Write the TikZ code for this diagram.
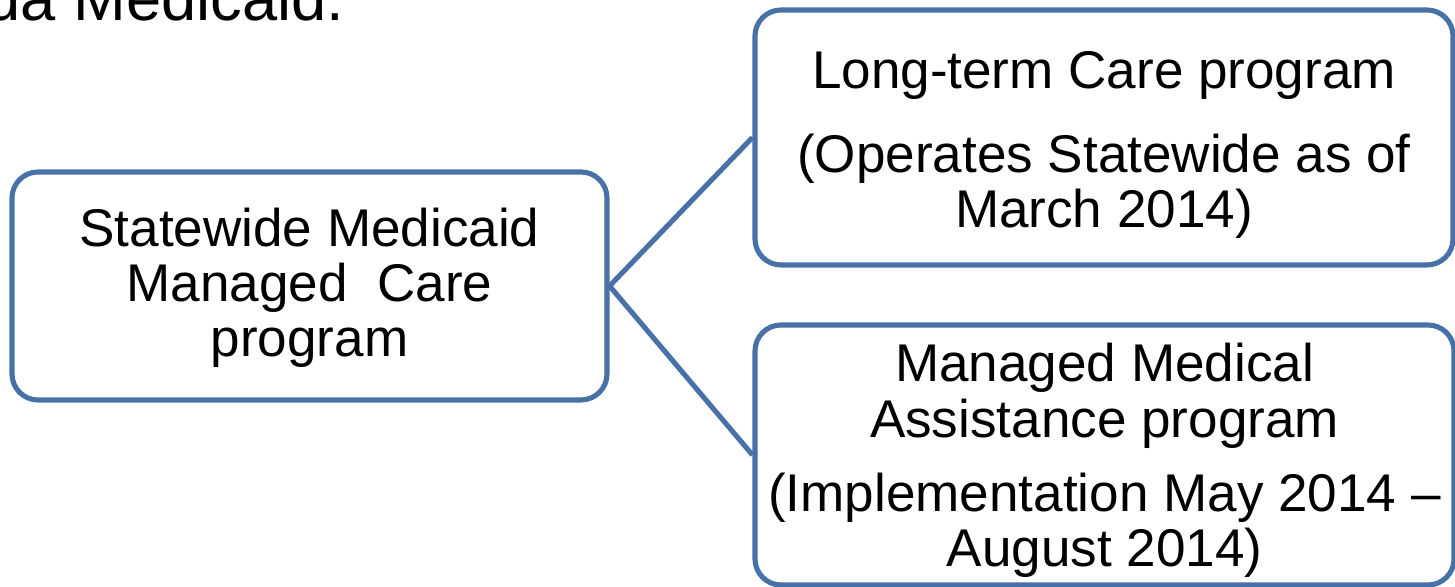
\documentclass[tikz,border=0pt]{standalone}
\usepackage{fontspec}
\setmainfont{Liberation Sans}
\definecolor{boxblue}{RGB}{72,113,168}
\begin{document}
\begin{tikzpicture}[
  box/.style={draw=boxblue, line width=1.45pt, rounded corners=0.26cm,
    fill=white, inner sep=0pt},
  boxtext/.style={inner sep=0pt, align=center,
    font=\fontsize{15.1}{15.7}\selectfont},
  link/.style={draw=boxblue, line width=1.45pt}
]
\useasboundingbox (0,0) rectangle (14.55,5.87);
\clip (0,0) rectangle (14.55,5.87);

% heading line running off the top edge
\node[anchor=base east, inner sep=0pt, font=\fontsize{18}{20}\selectfont]
  (head) at (3.45,5.66) {da Medicaid.};

% root of the tree
\node[box, minimum width=5.95cm, minimum height=2.28cm] (root) at (3.095,3.01) {};
\node[boxtext] (roottext) at ([yshift=-0.02cm]root.center)
  {Statewide Medicaid\\Managed~ Care\\program};

% the two programs
\node[box, minimum width=6.98cm, minimum height=2.55cm] (ltc) at (11.04,4.495) {};
\node[boxtext] (ltctext) at ([yshift=-0.075cm]ltc.center)
  {Long-term Care program\\[0.29cm](Operates Statewide as of\\March 2014)};
\node[box, minimum width=6.99cm, minimum height=2.60cm] (mma) at (11.045,1.32) {};
\node[boxtext] (mmatext) at ([yshift=-0.055cm]mma.center)
  {Managed Medical\\Assistance program\\[0.19cm](Implementation May 2014 --\\August 2014)};

\draw[link] (root.east) -- (ltc.west);
\draw[link] (root.east) -- (mma.west);
\end{tikzpicture}
\end{document}
